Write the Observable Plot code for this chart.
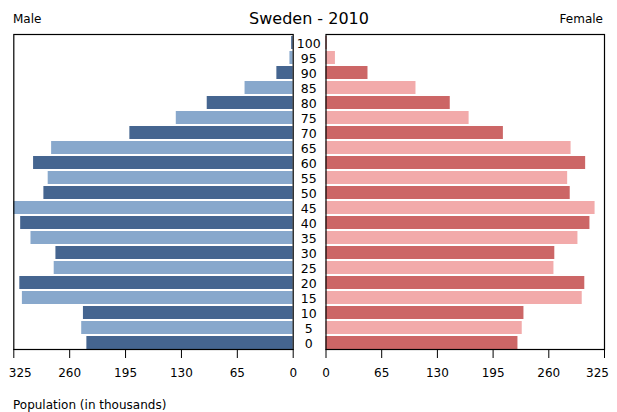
<!DOCTYPE html>
<html>
<head>
<meta charset="utf-8">
<script src="https://cdn.jsdelivr.net/npm/d3@7"></script>
<script src="https://cdn.jsdelivr.net/npm/@observablehq/plot@0.6"></script>
<style>
  body { margin: 0; background: #fff; }
  #c { position: relative; width: 617px; height: 412px; font-family: "DejaVu Sans", sans-serif; color: #000; }
  .t { position: absolute; white-space: nowrap; line-height: 1; }
  .p { position: absolute; top: 0; }
</style>
</head>
<body>
<div id="c">
  <div class="t" id="title" style="left:0;width:618px;text-align:center;top:10.8px;font-size:16px;">Sweden - 2010</div>
  <div class="t" style="left:13px;top:13.2px;font-size:12px;">Male</div>
  <div class="t" style="right:14px;top:13.2px;font-size:12px;">Female</div>
  <div class="t" style="left:13px;top:398.8px;font-size:12px;">Population (in thousands)</div>
  <div class="p" id="left" style="left:0;"></div>
  <div class="p" id="right" style="left:310px;"></div>
</div>
<script>
const ages   = [0, 5, 10, 15, 20, 25, 30, 35, 40, 45, 50, 55, 60, 65, 70, 75, 80, 85, 90, 95, 100];
const male   = [240, 246, 244, 315, 318, 278, 276, 305, 317, 325, 290, 285, 302, 281, 190, 136, 100, 56, 19, 3.8, 1.8];
const female = [224, 229, 231, 299, 302, 266, 267, 294, 308, 314, 285, 282, 303, 286, 207, 167, 145, 105, 49, 11, 1.3];
const xTicks = [0, 65, 130, 195, 260, 325];
const maleColors = ["#456590", "#88a8cc"];
const femaleColors = ["#cc6666", "#f2aaaa"];

const rows = ages.map((a, i) => ({age: a, male: male[i], female: female[i], k: i % 2}));
const yDomain = ages.slice().reverse();

function panel({key, colors, reverse, width, marginLeft, marginRight, ageLabels, edgeDx}) {
  const marks = [
    Plot.barX(rows, {x: key, y: "age", fill: d => colors[d.k], insetTop: 2}),
    Plot.frame({stroke: "black", strokeWidth: 1.2}),
    Plot.axisX({ticks: xTicks, tickSize: 9, tickPadding: 10, label: null, fontSize: 12,
                tickFormat: d => d === 325 ? "" : String(d)}),
    Plot.text([325], {x: d => d, text: d => String(d), frameAnchor: "bottom", fontSize: 12,
                      lineAnchor: "top", dy: 19, dx: edgeDx, textAnchor: "middle"})
  ];
  if (ageLabels) {
    marks.push(Plot.text(rows, {x: () => 0, y: "age", text: d => String(d.age), fontSize: 12.5,
                                dx: 15.5, dy: 2, textAnchor: "middle"}));
  }
  return Plot.plot({
    width, height: 385,
    marginTop: 34, marginBottom: 36, marginLeft, marginRight,
    style: {fontFamily: "DejaVu Sans", fontSize: "12px", background: "transparent", overflow: "visible"},
    x: {domain: [0, 325], reverse, axis: null},
    y: {type: "band", domain: yDomain, padding: 0, axis: null},
    color: {type: "identity"},
    marks
  });
}

document.getElementById("left").appendChild(panel({
  key: "male", colors: maleColors, reverse: true, width: 310,
  marginLeft: 13.3, marginRight: 17.3, ageLabels: true, edgeDx: 6.5
}));
document.getElementById("right").appendChild(panel({
  key: "female", colors: femaleColors, reverse: false, width: 307,
  marginLeft: 15.5, marginRight: 13, ageLabels: false, edgeDx: -7
}));
</script>
</body>
</html>
